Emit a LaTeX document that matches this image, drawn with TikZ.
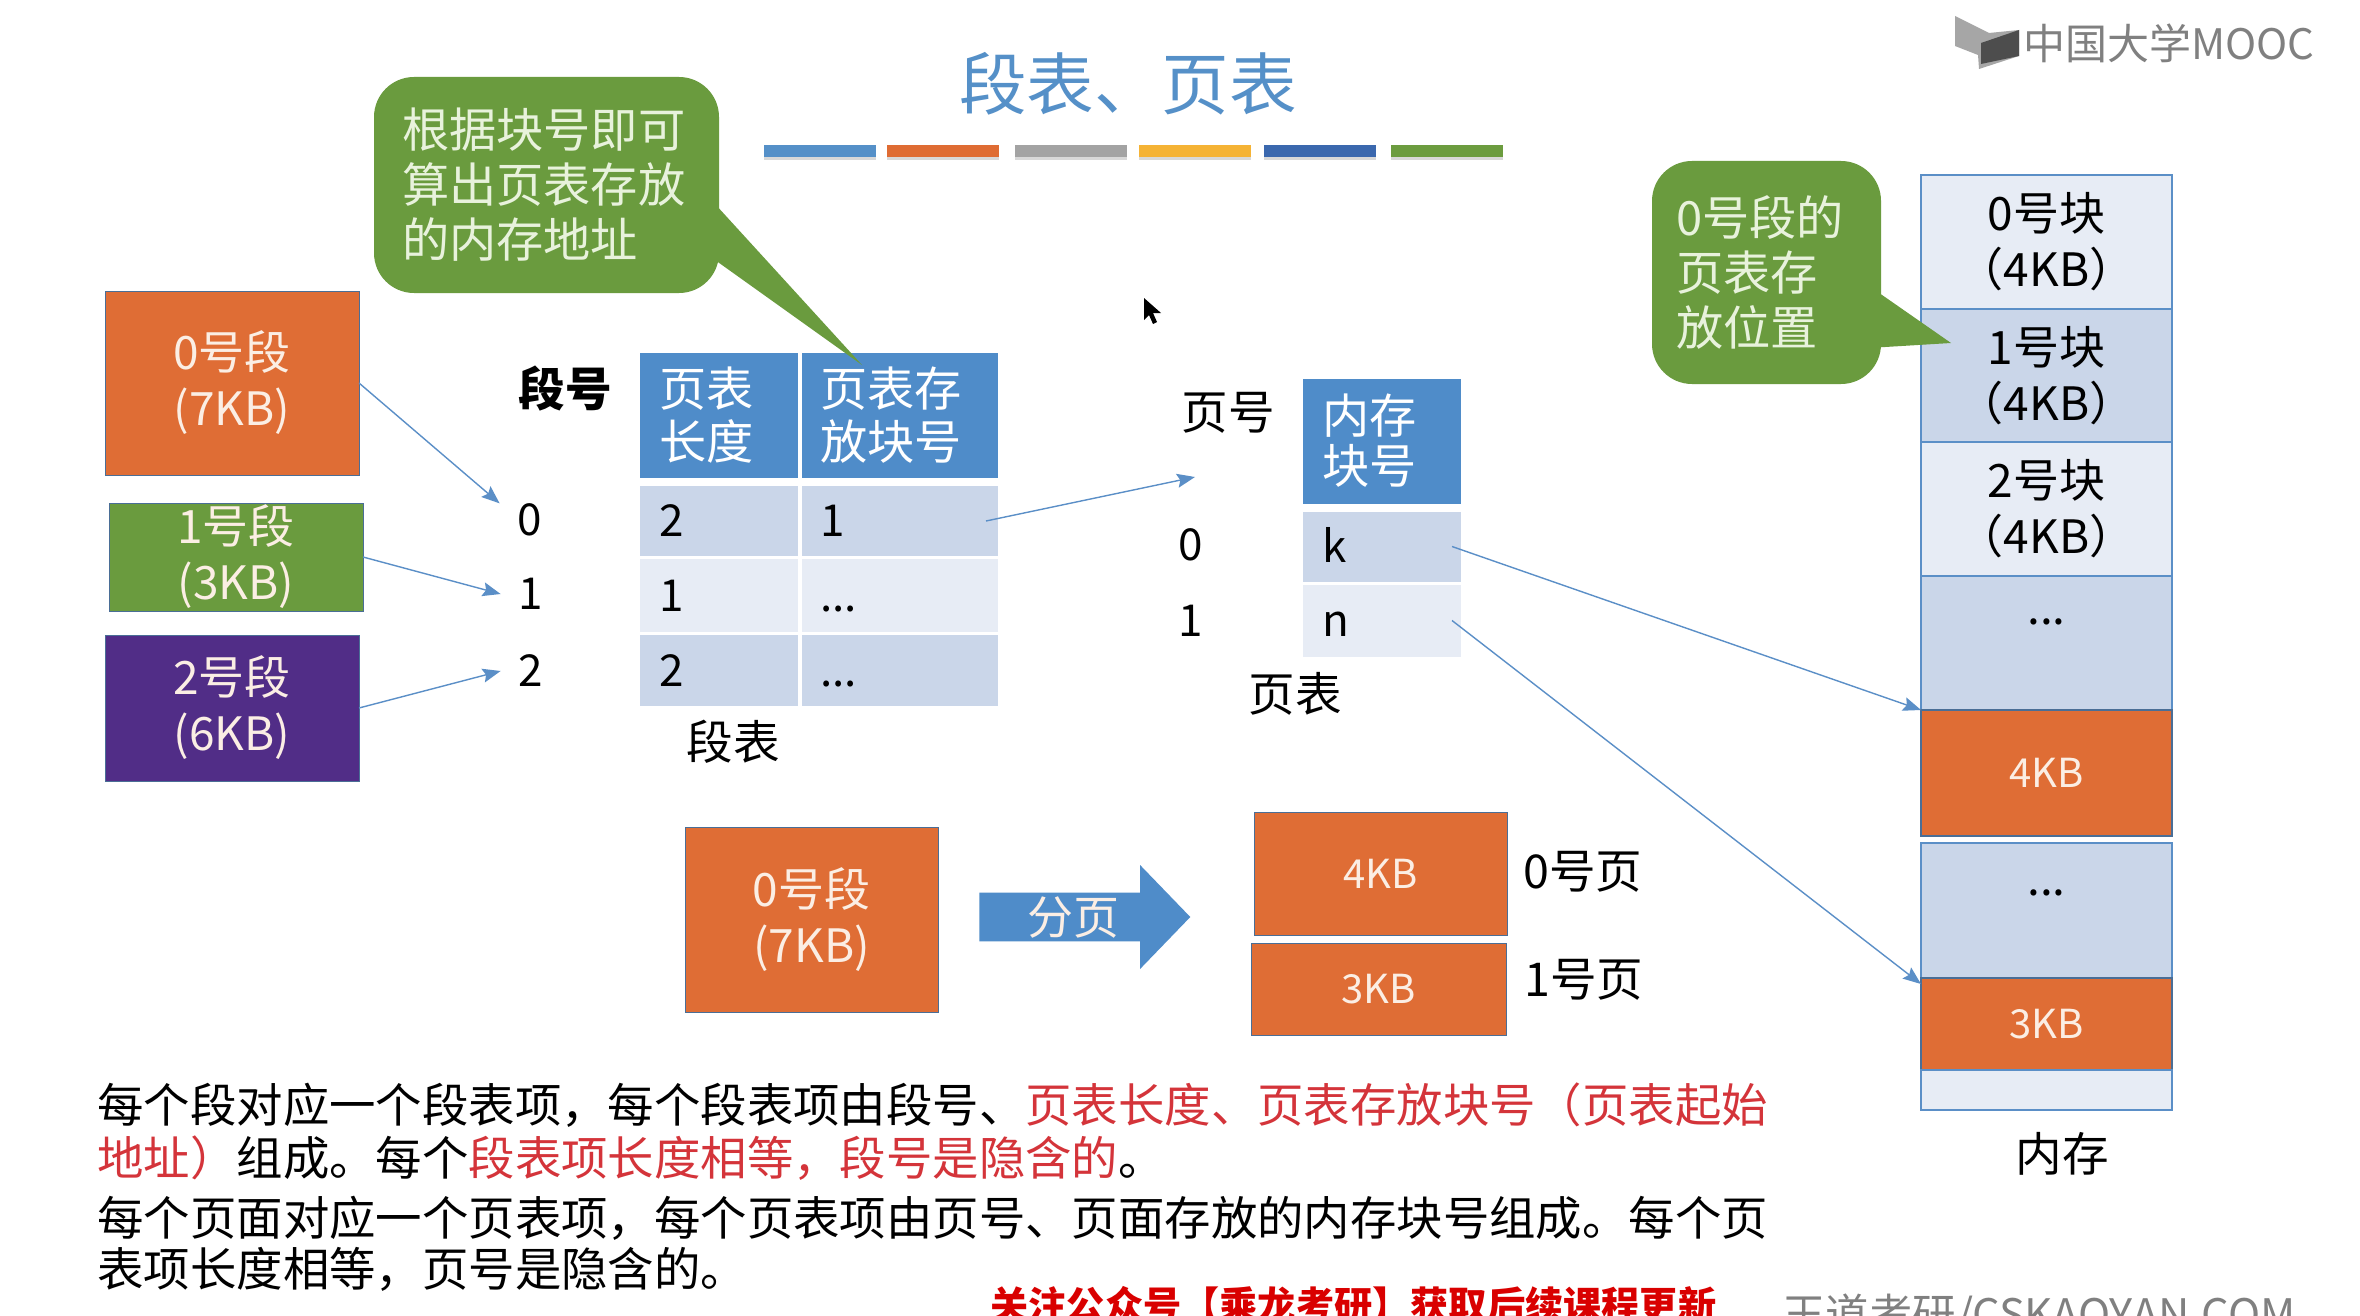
\documentclass[tikz,border=0pt]{standalone}
\usepackage{fontspec}
\setmainfont{Noto Sans CJK SC}
\usetikzlibrary{arrows.meta,positioning,shapes.arrows,shadows}
\definecolor{barblue}{HTML}{5590C8}
\definecolor{barorange}{HTML}{DF6C33}
\definecolor{bargray}{HTML}{A3A3A3}
\definecolor{baryellow}{HTML}{F5B335}
\definecolor{bardeep}{HTML}{3B68AE}
\definecolor{bargreen}{HTML}{6C9C3F}
\definecolor{segorange}{HTML}{DF6D35}
\definecolor{seggreen}{HTML}{6A9B3E}
\definecolor{segpurple}{HTML}{512D87}
\definecolor{headblue}{HTML}{4F8CC9}
\definecolor{rowdark}{HTML}{CAD6E9}
\definecolor{rowlight}{HTML}{E7ECF5}
\definecolor{boxedge}{HTML}{4A6E96}
\definecolor{lineblue}{HTML}{5B8FC7}
\definecolor{softwhite}{HTML}{FBEEE4}
\definecolor{softgreen}{HTML}{E8F2DC}
\definecolor{notered}{HTML}{D4343A}
\definecolor{logogray}{HTML}{808080}
\tikzset
{
    bigtext/.style   = {font=\fontsize{23}{28}\selectfont},
    celltext/.style  = {font=\fontsize{22}{28}\selectfont},
    headtext/.style  = {font=\fontsize{23.6}{26.5}\selectfont},
    segbox/.style    = {bigtext, draw=boxedge, line width=0.5pt, align=center, inner sep=0pt, outer sep=0pt, text=softwhite},
    titlebar/.style  = {minimum width=56pt, minimum height=6pt, inner sep=0pt, drop shadow={shadow xshift=0pt, shadow yshift=-1.5pt, opacity=0.3}},
    colone/.style    = {text width=59.5pt, inner xsep=9.75pt, inner ysep=0pt, outer sep=0pt, align=left},
    coltwo/.style    = {text width=80pt, inner xsep=9pt, inner ysep=0pt, outer sep=0pt, align=left},
    headcell/.style  = {headtext, fill=headblue, text=white, minimum height=62.5pt},
    bodycell/.style  = {celltext, text height=15.5pt, text depth=0pt},
    memblock/.style  = {bigtext, draw=lineblue, line width=0.6pt, minimum width=125.5pt, align=center, inner sep=0pt, outer sep=0pt},
    plainlabel/.style = {font=\fontsize{23.3}{28}\selectfont, inner sep=0pt},
    balloon/.style   = {font=\fontsize{23.6}{27.5}\selectfont, fill=seggreen, text=softgreen, rounded corners=20pt, align=left, inner ysep=0pt, outer sep=0pt},
    link/.style      = {draw=lineblue, line width=0.7pt, -{Stealth[length=9pt,width=7pt,inset=1.5pt]}}
}
\begin{document}
\begin{tikzpicture}[x=0.5pt,y=-0.5pt]
    \clip (0,0) rectangle (2360,1316);
    \fill[white] (0,0) rectangle (2360,1316);

    \node [font=\fontsize{33.8}{40}\selectfont, text=barblue, inner sep=0pt] (title) at (1128,84) {段表、页表};
    \node [titlebar, fill=barblue] (bar1) at (820,151) {};
    \node [titlebar, fill=barorange, right=5pt of bar1] (bar2) {};
    \node [titlebar, fill=bargray, right=7.5pt of bar2] (bar3) {};
    \node [titlebar, fill=baryellow, right=6pt of bar3] (bar4) {};
    \node [titlebar, fill=bardeep, right=6pt of bar4] (bar5) {};
    \node [titlebar, fill=bargreen, right=7pt of bar5] (bar6) {};

    \fill[logogray!70] (1955,16) -- (1989,33) -- (2019,30) -- (2019,56) -- (1979,69) -- (1978,55) -- (1955,46) -- cycle;
    \fill[logogray!140] (1981,43) -- (2019,30) -- (2019,56) -- (1981,64) -- cycle;
    \node [font=\fontsize{21}{24}\selectfont, text=logogray, anchor=west, inner sep=0pt] (mooc) at (2023,43) {中国大学MOOC};
    \fill[black] (1144,298) -- (1144,320) -- (1149,315) -- (1153,324) -- (1157,322) -- (1153,313) -- (1161,313) -- cycle;

    \node [segbox, fill=segorange, minimum width=127pt, minimum height=92pt] (seg0) at (232,383) {0号段\\(7KB)};
    \node [segbox, fill=seggreen, minimum width=127pt, minimum height=54pt] (seg1) at (236,557) {\raisebox{1.5pt}{1号段}\\\raisebox{1.5pt}{(3KB)}};
    \node [segbox, fill=segpurple, minimum width=127pt, minimum height=73pt] (seg2) at (232,708) {2号段\\(6KB)};

    \node [font=\fontsize{23.3}{28}\selectfont\bfseries, inner sep=0pt] (segno) at (565,389) {段号};
    \node [celltext, inner sep=0pt, minimum width=30pt, minimum height=12pt] (num0) at (530,520) {0};
    \node [celltext, inner sep=0pt, minimum width=30pt, minimum height=12pt] (num1) at (531,594) {1};
    \node [celltext, inner sep=0pt, minimum width=30pt, minimum height=12pt] (num2) at (531,671) {2};

    \node [colone, headcell] (seghead1) at (719,415.5) {页表\\长度};
    \node [coltwo, headcell, right=2pt of seghead1] (seghead2) {页表存\\放块号};
    \node [colone, bodycell, fill=rowdark, minimum height=35pt, below=4pt of seghead1] (segcell1) {2};
    \node [coltwo, bodycell, fill=rowdark, minimum height=35pt, right=2pt of segcell1] (segblock1) {1};
    \node [colone, bodycell, fill=rowlight, minimum height=36.5pt, below=1.5pt of segcell1] (segcell2) {1};
    \node [coltwo, bodycell, fill=rowlight, minimum height=36.5pt, right=2pt of segcell2] (segblock2) {...};
    \node [colone, bodycell, fill=rowdark, minimum height=35.5pt, below=1.5pt of segcell2] (segcell3) {2};
    \node [coltwo, bodycell, fill=rowdark, minimum height=35.5pt, right=2pt of segcell3] (segblock3) {...};
    \node [plainlabel] (segname) at (733,742) {段表};

    \node [plainlabel] (pageno) at (1228,413) {页号};
    \coordinate (pagein) at (1195,477);
    \node [celltext, inner sep=0pt] (pnum0) at (1191,545) {0};
    \node [celltext, inner sep=0pt] (pnum1) at (1191,621) {1};
    \node [colone, headcell] (pagehead) at (1382,441) {\raisebox{-1.5pt}{内存}\\块号};
    \node [colone, bodycell, fill=rowdark, minimum height=35pt, below=4pt of pagehead] (pagecell1) {k};
    \node [colone, bodycell, fill=rowlight, minimum height=36pt, below=1.5pt of pagecell1] (pagecell2) {n};
    \node [plainlabel] (pagename) at (1295,694) {页表};

    \node [memblock, fill=rowlight, minimum height=67pt] (mem0) at (2046.5,242) {0号块\\（4KB）};
    \node [memblock, fill=rowdark, minimum height=66.5pt, below=0pt of mem0] (mem1) {1号块\\（4KB）};
    \node [memblock, fill=rowlight, minimum height=67pt, below=0pt of mem1] (mem2) {2号块\\（4KB）};
    \node [memblock, fill=rowdark, minimum height=67pt, text depth=21.5pt, below=0pt of mem2] (mem3) {...};
    \node [memblock, fill=segorange, draw=boxedge, text=softwhite, font=\fontsize{20}{24}\selectfont, minimum height=63pt, below=0pt of mem3] (memfour) {4KB};
    \node [memblock, fill=rowdark, minimum height=67.5pt, text depth=17.5pt, below=3.5pt of memfour] (mem5) {...};
    \node [memblock, fill=segorange, draw=boxedge, text=softwhite, font=\fontsize{20}{24}\selectfont, minimum height=46pt, below=0pt of mem5] (memthree) {3KB};
    \node [memblock, fill=rowlight, minimum height=20pt, below=0pt of memthree] (mem7) {};
    \node [plainlabel] (memname) at (2062,1154) {内存};

    \node [balloon, minimum width=172.5pt, minimum height=108pt, text width=144.5pt, inner xsep=14pt] (note1) at (546.5,185) {根据块号即可\\算出页表存放\\的内存地址};
    \coordinate (tip1) at (862,365);
    \fill[seggreen] ([yshift=-9.5pt,xshift=-2pt]note1.east) -- (tip1) -- ([yshift=-37.5pt,xshift=-2pt]note1.east) -- cycle;
    \node [balloon, minimum width=114.5pt, minimum height=111.5pt, text width=90.5pt, inner xsep=12pt] (note2) at (1766.5,272.5) {0号段的\\页表存\\放位置};
    \coordinate (tip2) at (1951,343);
    \fill[seggreen] ([yshift=-9.5pt,xshift=-2pt]note2.east) -- (tip2) -- ([yshift=-37.5pt,xshift=-2pt]note2.east) -- cycle;

    \draw [link] (seg0.east) -- (num0.north west);
    \draw [link] (seg1.east) -- (num1.west);
    \draw [link] (seg2.east) -- (num2.west);
    \draw [link] ([xshift=-6pt]segblock1.east) -- (pagein);
    \draw [link] ([xshift=-4.5pt]pagecell1.east) -- (memfour.north west);
    \draw [link] ([xshift=-4.5pt]pagecell2.east) -- ([yshift=-3pt]memthree.north west);

    \node [segbox, fill=segorange, minimum width=126.5pt, minimum height=92.5pt] (whole) at (811.5,919.5) {0号段\\(7KB)};
    \node [single arrow, fill=headblue, text=softwhite, bigtext, minimum height=105.5pt, minimum width=52pt, single arrow head extend=12pt, single arrow tip angle=92, inner sep=0pt, outer sep=0pt] (paging) at (1073,917) {分页};
    \node [segbox, fill=segorange, font=\fontsize{20}{24}\selectfont, minimum width=126.5pt, minimum height=61.5pt] (page0) at (1380.5,873.5) {4KB};
    \node [segbox, fill=segorange, font=\fontsize{20}{24}\selectfont, minimum width=127.5pt, minimum height=46pt] (page1) at (1378.5,989) {3KB};
    \node [plainlabel] (page0name) at (1583,872) {0号页};
    \node [plainlabel] (page1name) at (1584,980) {1号页};

    \node [anchor=west, font=\fontsize{23.2}{26.5}\selectfont, align=left, inner sep=0pt] (para1) at (97,1131.5) {每个段对应一个段表项，每个段表项由段号、\textcolor{notered}{页表长度、页表存放块号（页表起始}\\\textcolor{notered}{地址）}组成。每个\textcolor{notered}{段表项长度相等，段号是隐含的}。};
    \node [anchor=west, font=\fontsize{23.2}{25.5}\selectfont, align=left, inner sep=0pt] (para2) at (97,1243.5) {每个页面对应一个页表项，每个页表项由页号、页面存放的内存块号组成。每个页\\表项长度相等，页号是隐含的。};
    \node [anchor=west, font=\fontsize{19.1}{22}\selectfont\bfseries, text=red!85!black, inner sep=0pt] (follow) at (990,1305) {关注公众号【乘龙考研】获取后续课程更新};
    \node [anchor=west, font=\fontsize{21.7}{26}\selectfont, text=logogray, inner sep=0pt] (site) at (1782,1316) {王道考研/CSKAOYAN.COM};
\end{tikzpicture}
\end{document}
